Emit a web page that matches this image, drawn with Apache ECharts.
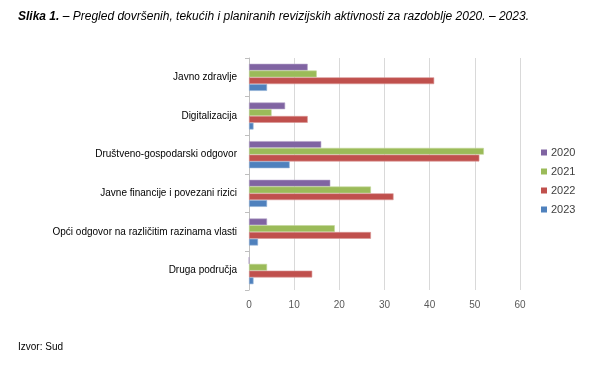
<!DOCTYPE html>
<html><head><meta charset="utf-8">
<script src="https://cdn.jsdelivr.net/npm/echarts@6/dist/echarts.min.js"></script>
<style>html,body{margin:0;padding:0;background:#fff}#c{width:610px;height:375px}</style>
</head><body><div id="c"></div>
<script>
const categories = ["Javno zdravlje","Digitalizacija","Društveno-gospodarski odgovor","Javne financije i povezani rizici","Opći odgovor na različitim razinama vlasti","Druga područja"];
const years = ["2020","2021","2022","2023"];
const v2020 = [13, 8, 16, 18, 4, 0];
const v2021 = [15, 5, 52, 27, 19, 4];
const v2022 = [41, 13, 51, 32, 27, 14];
const v2023 = [4, 1, 9, 4, 2, 1];
const xTicks = [0, 10, 20, 30, 40, 50, 60];
const colors = ["#8064A2","#9BBB59","#C0504D","#4F81BD"];
const borders = ["#b3a2c7","#c3d69b","#d99694","#95b3d7"];
const seriesData = [v2020, v2021, v2022, v2023];

const chart = echarts.init(document.getElementById('c'), null, {renderer:'canvas'});
const font = "'Liberation Sans', Arial, sans-serif";
chart.setOption({
  animation:false,
  textStyle:{fontFamily:font},
  title:{
    text:"{b|Slika 1.}{i| – Pregled dovršenih, tekućih i planiranih revizijskih aktivnosti za razdoblje 2020. – 2023.}",
    left:18, top:11, padding:0,
    textStyle:{fontWeight:'normal',rich:{
      b:{fontFamily:font,fontSize:12,fontWeight:'bold',fontStyle:'italic',color:'#000'},
      i:{fontFamily:font,fontSize:12,fontWeight:'normal',fontStyle:'italic',color:'#000'}
    }}
  },
  graphic:[{type:'text',left:18,top:342,style:{text:'Izvor: Sud',font:"10px "+font,fill:'#000'}}],
  legend:{
    orient:'vertical', left:541, top:147, itemGap:8, padding:0,
    itemWidth:6, itemHeight:6, icon:'rect',
    itemStyle:{borderWidth:0},
    textStyle:{fontSize:11,color:'#404040',fontFamily:font,padding:[0,0,0,-1]},
    data:years
  },
  grid:{left:249, right:90, top:58, bottom:85, containLabel:false},
  xAxis:{
    type:'value', min:0, max:60, interval:10,
    axisLine:{show:false}, axisTick:{show:false},
    splitLine:{lineStyle:{color:'#d9d9d9'}},
    axisLabel:{fontSize:10,color:'#595959',margin:10,fontFamily:font,
      formatter:function(v){return xTicks.indexOf(v)>=0?String(v):'';}}
  },
  yAxis:{
    type:'category', data:categories, inverse:true,
    axisLine:{lineStyle:{color:'#bfbfbf'}},
    axisTick:{show:true,lineStyle:{color:'#bfbfbf'},length:4},
    axisLabel:{fontSize:10,color:'#000',margin:12,fontFamily:font}
  },
  series: years.map((y,i)=>({
    name:y, type:'bar', data:seriesData[i],
    barGap:'0%', barCategoryGap:'30%',
    itemStyle:{color:colors[i], borderColor:borders[i], borderWidth:0.6}
  }))
});
</script></body></html>
